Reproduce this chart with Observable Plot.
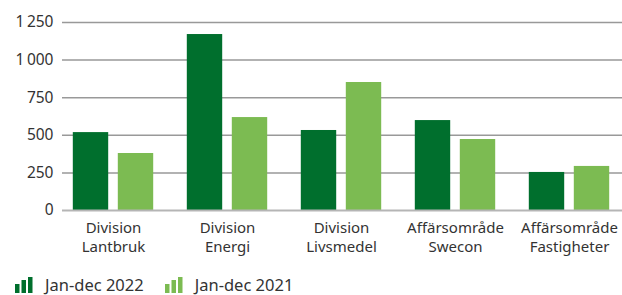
<!DOCTYPE html>
<html>
<head>
<meta charset="utf-8">
<script src="https://cdn.jsdelivr.net/npm/d3@7"></script>
<script src="https://cdn.jsdelivr.net/npm/@observablehq/plot@0.6"></script>
<style>
  html, body { margin: 0; padding: 0; background: #fff; }
  body { width: 622px; height: 295px; overflow: hidden; font-family: "Noto Sans", sans-serif; color: #333; }
  #chart { height: 257px; }
  #legend { display: flex; align-items: center; height: 18px; padding-left: 15px; padding-top: 19px; font-size: 16.5px; line-height: 1; }
  .item { display: flex; align-items: center; margin-right: 21px; }
  .item svg { margin-right: 12px; }
</style>
</head>
<body>
<div id="chart"></div>
<div id="legend"></div>
<script>
const categories = ["Division\nLantbruk", "Division\nEnergi", "Division\nLivsmedel", "Affärsområde\nSwecon", "Affärsområde\nFastigheter"];
const seriesNames = ["Jan-dec 2022", "Jan-dec 2021"];
const values2022 = [518, 1170, 532, 598, 253];
const values2021 = [379, 618, 851, 472, 293];
const yTicks = [0, 250, 500, 750, 1000, 1250];
const colors = ["#006f2d", "#7cbb52"];

const rows = [];
categories.forEach((c, i) => {
  rows.push({cat: c, series: seriesNames[0], value: values2022[i]});
  rows.push({cat: c, series: seriesNames[1], value: values2021[i]});
});

const fmt = d => d3.format(",")(d).replace(/,/g, "\u2009");

const chart = Plot.plot({
  width: 622,
  height: 257,
  marginLeft: 62,
  marginRight: 0,
  marginTop: 22,
  marginBottom: 47,
  style: {fontFamily: "Noto Sans, sans-serif", fontSize: "15px", color: "#333", display: "block"},
  x: {domain: categories, range: [55.2, 626.8], padding: 0, axis: null},
  y: {domain: [0, 1250], axis: null},
  color: {domain: seriesNames, range: colors},
  marks: [
    Plot.ruleY(yTicks.filter(d => d > 0), {stroke: "#999", strokeWidth: 1.5}),
    Plot.barY(rows.filter(r => r.series === seriesNames[0]), {x: "cat", y: "value", fill: "series", insetLeft: 16.8, insetRight: 61.8}),
    Plot.barY(rows.filter(r => r.series === seriesNames[1]), {x: "cat", y: "value", fill: "series", insetLeft: 61.8, insetRight: 16.8}),
    Plot.ruleY([0], {stroke: "#b5b5b5", strokeWidth: 2}),
    Plot.axisY({ticks: yTicks, tickSize: 0, tickPadding: 9, tickFormat: fmt, label: null, fill: "#333", fontSize: 15.5}),
    Plot.text(categories, {x: d => d, y: 0, dy: 9, lineAnchor: "top", lineHeight: 1.25, fill: "#333", fontSize: 15})
  ]
});
document.getElementById("chart").appendChild(chart);

const legend = document.getElementById("legend");
seriesNames.forEach((name, i) => {
  const item = document.createElement("div");
  item.className = "item";
  item.innerHTML = `<svg width="18" height="16"><rect x="0" y="7" width="4.5" height="9" fill="${colors[i]}"/><rect x="6.5" y="3" width="4.5" height="13" fill="${colors[i]}"/><rect x="13" y="0" width="4.5" height="16" fill="${colors[i]}"/></svg><span>${name}</span>`;
  legend.appendChild(item);
});
</script>
</body>
</html>
